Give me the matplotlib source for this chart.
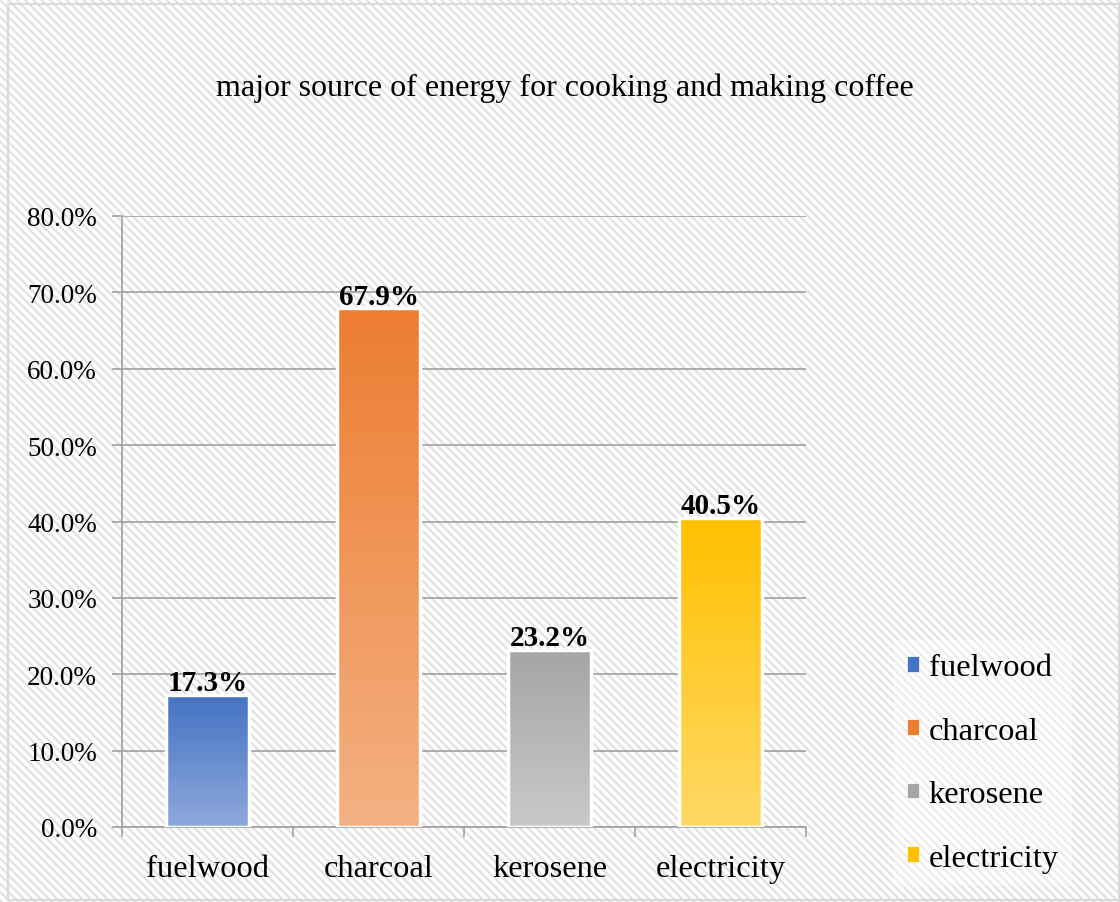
import matplotlib
matplotlib.use("Agg")
import matplotlib.pyplot as plt
import numpy as np
from matplotlib.patches import Rectangle, Patch
from matplotlib.colors import LinearSegmentedColormap

categories = ["fuelwood", "charcoal", "kerosene", "electricity"]
values = [17.3, 67.9, 23.2, 40.5]
top_colors = ["#4472C4", "#ED7D31", "#A5A5A5", "#FFC000"]
bottom_colors = ["#8EA9DB", "#F4B183", "#C9C9C9", "#FFD966"]
y_ticks = [0, 10, 20, 30, 40, 50, 60, 70, 80]
title = "major source of energy for cooking and making coffee"

plt.rcParams['font.family'] = ['Liberation Serif', 'DejaVu Serif']
plt.rcParams['hatch.linewidth'] = 1.6

fig = plt.figure(figsize=(11.2, 9.03), dpi=100)
fig.patch.set_facecolor("white")
bg = Rectangle((0, 0), 1, 1, transform=fig.transFigure, facecolor="white",
               edgecolor="#e2e2e2", hatch="\\\\\\\\", linewidth=0, zorder=-10)
fig.patches.append(bg)
border = Rectangle((8/1120, 2/903), 1 - 9/1120, 1 - 7/903, transform=fig.transFigure,
                   facecolor="none", edgecolor="#d9d9d9", linewidth=1.5, zorder=-5)
fig.patches.append(border)

ax = fig.add_axes([122/1120, 75/903, (806-122)/1120, (828-217)/903])
ax.set_facecolor("none")

width = 0.48
for i, (v, tc, bc) in enumerate(zip(values, top_colors, bottom_colors)):
    cmap = LinearSegmentedColormap.from_list("g%d" % i, [bc, tc])
    grad = np.linspace(0, 1, 256).reshape(-1, 1)
    im = ax.imshow(grad, cmap=cmap, aspect="auto", origin="lower",
                   extent=[i - width/2, i + width/2, 0, v], zorder=3)
    rect = Rectangle((i - width/2, 0), width, v, facecolor="none",
                     edgecolor="white", linewidth=2.5, zorder=4)
    ax.add_patch(rect)
    clip = Rectangle((i - width/2, 0), width, v, transform=ax.transData)
    im.set_clip_path(clip)
    ax.text(i, v + 0.6, f"{v:.1f}%", ha="center", va="baseline",
            fontsize=21, fontweight="bold", zorder=5)

ax.set_xlim(-0.5, len(categories) - 0.5)
ax.set_ylim(0, 80)

ax.set_yticks(y_ticks)
ax.set_yticklabels([f"{t:.1f}%" for t in y_ticks], fontsize=19.5)
ax.set_xticks(range(len(categories)))
ax.set_xticklabels(categories, fontsize=23.4)
ax.tick_params(axis="x", which="major", length=0, pad=19.5)
ax.set_xticks(np.arange(-0.5, len(categories)), minor=True)
ax.tick_params(axis="x", which="minor", length=7, color="#a0a0a0", width=1.2)
ax.tick_params(axis="y", length=7, color="#a0a0a0", width=1.2, pad=11)

ax.grid(axis="y", color="#a0a0a0", linewidth=1.2, zorder=1)
ax.set_axisbelow(True)
for s in ["top", "right"]:
    ax.spines[s].set_visible(False)
for s in ["left", "bottom"]:
    ax.spines[s].set_color("#a0a0a0")
    ax.spines[s].set_linewidth(1.2)

fig.text(565/1120, 1 - 88/903, title, ha="center", va="center", fontsize=23)

handles = [Patch(facecolor=c, edgecolor="white", linewidth=0.5) for c in top_colors]
leg = fig.legend(handles, categories, loc="center left",
                 bbox_to_anchor=(894/1120, 1 - 764/903), fontsize=23.4,
                 frameon=True, handlelength=0.37, handleheight=0.37,
                 labelspacing=1.06, handletextpad=0.3, borderpad=0.4,
                 borderaxespad=0)
leg.get_frame().set_facecolor("white")
leg.get_frame().set_alpha(0.35)
leg.get_frame().set_edgecolor("none")
leg.get_frame().set_boxstyle("square", pad=0)

fig.savefig("out.png", dpi=100)
